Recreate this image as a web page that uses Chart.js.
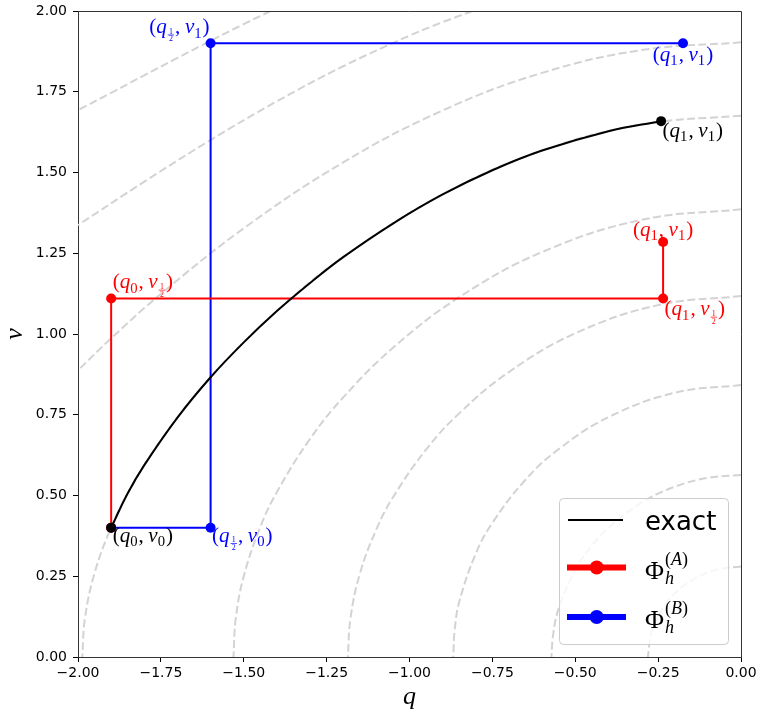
<!DOCTYPE html>
<html>
<head>
<meta charset="utf-8">
<script src="https://cdn.jsdelivr.net/npm/chart.js@4.4.0/dist/chart.umd.min.js"></script>
<style>
  html, body { margin: 0; padding: 0; background: #fff; }
</style>
</head>
<body>
<canvas id="phase" width="760" height="719"></canvas>
<script>
// ---- axis ticks ----
const qTicks = [-2, -1.75, -1.5, -1.25, -1, -0.75, -0.5, -0.25, 0];
const vTicks = [0, 0.25, 0.5, 0.75, 1, 1.25, 1.5, 1.75, 2];

// ---- energy level curves (q, v) ----
const level1 = [[0, 0.28], [-0.0725, 0.2705], [-0.14, 0.2425], [-0.198, 0.198], [-0.2425, 0.14], [-0.2705, 0.0725], [-0.281, 0]];
const level2 = [[0, 0.5635], [-0.1, 0.5546], [-0.2, 0.527], [-0.3, 0.4778], [-0.4, 0.3997], [-0.45, 0.3442], [-0.5, 0.2697], [-0.55, 0.1505], [-0.566, 0.075], [-0.572, 0]];
const level3 = [[0, 0.842], [-0.2, 0.818], [-0.4, 0.7424], [-0.55, 0.6435], [-0.65, 0.5488], [-0.75, 0.4152], [-0.8, 0.32], [-0.85, 0.1702], [-0.864, 0.08], [-0.868, 0]];
const level4 = [[0, 1.1176], [-0.25, 1.0894], [-0.5, 1.0021], [-0.7, 0.8824], [-0.85, 0.7543], [-0.95, 0.6422], [-1.05, 0.4941], [-1.1, 0.3952], [-1.15, 0.2569], [-1.178, 0.12], [-1.186, 0]];
const level5 = [[0, 1.386], [-0.3, 1.3534], [-0.6, 1.2537], [-0.85, 1.114], [-1.05, 0.9571], [-1.2, 0.8036], [-1.3, 0.6753], [-1.4, 0.5108], [-1.45, 0.4025], [-1.5, 0.25], [-1.524, 0.12], [-1.531, 0]];
const level6 = [[0, 1.676], [-0.3, 1.6488], [-0.6, 1.568], [-0.9, 1.4322], [-1.2, 1.238], [-1.4, 1.0714], [-1.6, 0.8658], [-1.75, 0.6719], [-1.85, 0.5068], [-1.9, 0.4018], [-1.95, 0.26], [-1.979, 0.12], [-1.987, 0]];
const level7 = [[0, 1.903], [-0.3, 1.879], [-0.6, 1.8085], [-0.9, 1.6921], [-1.2, 1.5313], [-1.5, 1.3272], [-1.75, 1.1241], [-1.9, 0.9866], [-2, 0.8875]];
const level8 = [[-0.81, 2], [-0.9, 1.9655], [-1.0, 1.9237], [-1.2, 1.8289], [-1.4, 1.7204], [-1.6, 1.6005], [-1.8, 1.4716], [-2, 1.337]];
const level9 = [[-1.419, 2], [-1.5, 1.9595], [-1.6, 1.9078], [-1.7, 1.8548], [-1.8, 1.801], [-1.9, 1.7468], [-2, 1.6928]];
const levelCurves = [level1, level2, level3, level4, level5, level6, level7, level8, level9];

// ---- exact flow ----
const exactQ = [-1.9, -1.85, -1.8, -1.7, -1.6, -1.5, -1.4, -1.3, -1.2, -1.05, -0.9, -0.75, -0.6, -0.4, -0.241];
const exactV = [0.4, 0.507, 0.594, 0.741, 0.866, 0.974, 1.071, 1.158, 1.238, 1.342, 1.432, 1.507, 1.568, 1.628, 1.659];

// ---- method A (red) and method B (blue) ----
const methodAQ = [-1.9, -1.9, -0.235, -0.235];
const methodAV = [0.4, 1.11, 1.11, 1.285];
const methodBQ = [-1.9, -1.6, -1.6, -0.175];
const methodBV = [0.4, 0.4, 1.9, 1.9];

const RED = '#ff0000', BLUE = '#0000ff', BLACK = '#000000';
const MATH_FONT = '"Liberation Serif", "DejaVu Serif", serif';
const SANS = '"DejaVu Sans", sans-serif';
const LABEL_SIZE = 21;

const toPts = (qs, vs) => qs.map((q, i) => ({ x: q, y: vs[i] }));
const fmtTick = v => Number(v).toFixed(2).replace('-', '\u2212');

// mathtext-ish label pieces
function pair(qSub, vSub) {
  return [
    ['rm', '('], ['it', 'q'], qSub === 'half' ? ['half'] : ['sub', qSub],
    ['rm', ','], ['sp'], ['it', 'v'], vSub === 'half' ? ['half'] : ['sub', vSub],
    ['rm', ')'],
  ];
}

function pieceList(ctx, parts, size) {
  return parts.map(([kind, txt]) => {
    if (kind === 'sp') return { kind, w: size * 0.22 };
    if (kind === 'half') return { kind, w: size * 0.4 };
    const font = kind === 'it' ? `italic ${size}px ${MATH_FONT}`
      : kind === 'sub' ? `${size * 0.7}px ${MATH_FONT}`
      : `${size}px ${MATH_FONT}`;
    ctx.font = font;
    return { kind, txt, font, w: ctx.measureText(txt).width + (kind === 'sub' ? 1 : 0) };
  });
}

function drawMath(ctx, parts, x, y, size, color, align) {
  const pieces = pieceList(ctx, parts, size);
  const total = pieces.reduce((s, p) => s + p.w, 0);
  let cx = align === 'center' ? x - total / 2 : align === 'right' ? x - total : x;
  ctx.save();
  ctx.fillStyle = color;
  ctx.strokeStyle = color;
  ctx.textBaseline = 'alphabetic';
  ctx.textAlign = 'left';
  pieces.forEach(p => {
    if (p.kind === 'half') {
      const n = size * 0.38;
      const barY = y + size * 0.08;
      ctx.font = `${n}px ${MATH_FONT}`;
      ctx.textAlign = 'center';
      ctx.fillText('1', cx + p.w / 2, barY - 1);
      ctx.fillText('2', cx + p.w / 2, barY + 1 + n * 0.68);
      ctx.textAlign = 'left';
      ctx.lineWidth = 0.7;
      ctx.beginPath();
      ctx.moveTo(cx + 1, barY);
      ctx.lineTo(cx + p.w - 1, barY);
      ctx.stroke();
    } else if (p.kind !== 'sp') {
      ctx.font = p.font;
      ctx.fillText(p.txt, cx, p.kind === 'sub' ? y + size * 0.2 : y);
    }
    cx += p.w;
  });
  ctx.restore();
  return total;
}

const last = exactQ.length - 1;
const pointLabels = [
  { parts: pair('1', '1'),       q: exactQ[last],  v: exactV[last],  color: BLACK, align: 'left',   dx: 1.5, dy: 16 },
  { parts: pair('0', '0'),       q: exactQ[0],     v: exactV[0],     color: BLACK, align: 'left',   dx: 1.5, dy: 14 },
  { parts: pair('0', 'half'),    q: methodAQ[1],   v: methodAV[1],   color: RED,   align: 'left',   dx: 1.5, dy: -10 },
  { parts: pair('1', 'half'),    q: methodAQ[2],   v: methodAV[2],   color: RED,   align: 'left',   dx: 1.5, dy: 17 },
  { parts: pair('1', '1'),       q: methodAQ[3],   v: methodAV[3],   color: RED,   align: 'center', dx: 0,   dy: -6 },
  { parts: pair('half', '0'),    q: methodBQ[1],   v: methodBV[1],   color: BLUE,  align: 'left',   dx: 1.5, dy: 14 },
  { parts: pair('half', '1'),    q: methodBQ[2],   v: methodBV[2],   color: BLUE,  align: 'right',  dx: -1,  dy: -10 },
  { parts: pair('1', '1'),       q: methodBQ[3],   v: methodBV[3],   color: BLUE,  align: 'center', dx: 0,   dy: 17.5 },
];

const legendItems = [
  { label: 'exact', color: BLACK, width: 2, marker: false },
  { label: 'A',     color: RED,   width: 6, marker: true },
  { label: 'B',     color: BLUE,  width: 6, marker: true },
];

const decor = {
  id: 'decor',
  afterDatasetsDraw(chart) {
    const { ctx, chartArea: a, scales: { x, y } } = chart;

    // top and right spines
    ctx.save();
    ctx.strokeStyle = '#333';
    ctx.lineWidth = 1;
    ctx.beginPath();
    ctx.moveTo(a.left, a.top + 0.5);
    ctx.lineTo(a.right + 0.5, a.top + 0.5);
    ctx.lineTo(a.right + 0.5, a.bottom);
    ctx.stroke();
    ctx.restore();

    // point annotations
    pointLabels.forEach(l => {
      drawMath(ctx, l.parts, x.getPixelForValue(l.q) + l.dx, y.getPixelForValue(l.v) + l.dy, LABEL_SIZE, l.color, l.align);
    });

    // legend box, lower right
    const bw = 169, bh = 146;
    const bx = a.right - 13 - bw, by = a.bottom - 13 - bh;
    ctx.save();
    ctx.fillStyle = 'rgba(255,255,255,0.8)';
    ctx.strokeStyle = '#cccccc';
    ctx.lineWidth = 1;
    ctx.beginPath();
    ctx.roundRect(bx + 0.5, by + 0.5, bw, bh, 4);
    ctx.fill();
    ctx.stroke();

    const rows = [22, 69.5, 119];
    legendItems.forEach((it, i) => {
      const ry = by + rows[i];
      ctx.strokeStyle = it.color;
      ctx.lineWidth = it.width;
      ctx.lineCap = 'butt';
      ctx.beginPath();
      ctx.moveTo(bx + (it.marker ? 8 : 9), ry);
      ctx.lineTo(bx + (it.marker ? 67 : 64), ry);
      ctx.stroke();
      if (it.marker) {
        ctx.fillStyle = it.color;
        ctx.beginPath();
        ctx.arc(bx + 37.7, ry, 7, 0, Math.PI * 2);
        ctx.fill();
        const base = ry + 11;
        const w = drawMath(ctx, [['rm', '\u03A6']], bx + 86, base, 26, BLACK, 'left');
        drawMath(ctx, [['it', 'h']], bx + 86 + w + 1, base + 5, 18, BLACK, 'left');
        drawMath(ctx, [['rm', '('], ['it', it.label], ['rm', ')']], bx + 86 + w + 1, base - 14, 18, BLACK, 'left');
      } else {
        ctx.fillStyle = BLACK;
        ctx.font = `26px ${SANS}`;
        ctx.textBaseline = 'alphabetic';
        ctx.fillText(it.label, bx + 86, ry + 10);
      }
    });
    ctx.restore();
  },
};

const contourSets = levelCurves.map(c => ({
  data: c.map(([q, v]) => ({ x: q, y: v })),
  showLine: true,
  borderColor: '#d3d3d3',
  borderWidth: 2,
  borderDash: [8, 3.5],
  pointRadius: 0,
  tension: 0.4,
}));

new Chart(document.getElementById('phase'), {
  type: 'scatter',
  data: {
    datasets: [
      {
        label: 'exact',
        data: toPts(exactQ, exactV),
        showLine: true,
        borderColor: BLACK,
        backgroundColor: BLACK,
        borderWidth: 2,
        tension: 0.4,
        pointRadius: exactQ.map((_, i) => (i === 0 || i === last ? 5 : 0)),
        pointBorderWidth: 0,
      },
      {
        label: 'A',
        data: toPts(methodAQ, methodAV),
        showLine: true,
        borderColor: RED,
        backgroundColor: RED,
        borderWidth: 2,
        pointRadius: 5,
        pointBorderWidth: 0,
      },
      {
        label: 'B',
        data: toPts(methodBQ, methodBV),
        showLine: true,
        borderColor: BLUE,
        backgroundColor: BLUE,
        borderWidth: 2,
        pointRadius: 5,
        pointBorderWidth: 0,
      },
      ...contourSets,
    ],
  },
  options: {
    responsive: false,
    animation: false,
    layout: { padding: { top: 11, right: 19, left: 0, bottom: 0 } },
    plugins: { legend: { display: false }, tooltip: { enabled: false } },
    scales: {
      x: {
        type: 'linear',
        min: -2,
        max: 0,
        afterBuildTicks: s => { s.ticks = qTicks.map(value => ({ value })); },
        afterFit: s => { s.height = 62; s.paddingLeft = 0; s.paddingRight = 0; },
        ticks: { autoSkip: false, maxRotation: 0, padding: 3, color: BLACK, font: { family: SANS, size: 14 }, callback: fmtTick },
        grid: { drawOnChartArea: false, tickLength: 5, color: BLACK, tickColor: BLACK },
        border: { color: '#333', width: 1 },
        title: { display: true, text: 'q', color: BLACK, font: { family: MATH_FONT, style: 'italic', size: 26 }, padding: { top: 0, bottom: 6 } },
      },
      y: {
        type: 'linear',
        min: 0,
        max: 2,
        afterBuildTicks: s => { s.ticks = vTicks.map(value => ({ value })); },
        afterFit: s => { s.width = 78; s.paddingTop = 0; s.paddingBottom = 0; },
        ticks: { autoSkip: false, padding: 6, color: BLACK, font: { family: SANS, size: 14 }, callback: fmtTick },
        grid: { drawOnChartArea: false, tickLength: 5, color: BLACK, tickColor: BLACK },
        border: { color: '#333', width: 1 },
        title: { display: true, text: 'v', color: BLACK, font: { family: MATH_FONT, style: 'italic', size: 26 }, padding: { top: 0, bottom: 0 } },
      },
    },
  },
  plugins: [decor],
});
</script>
</body>
</html>
